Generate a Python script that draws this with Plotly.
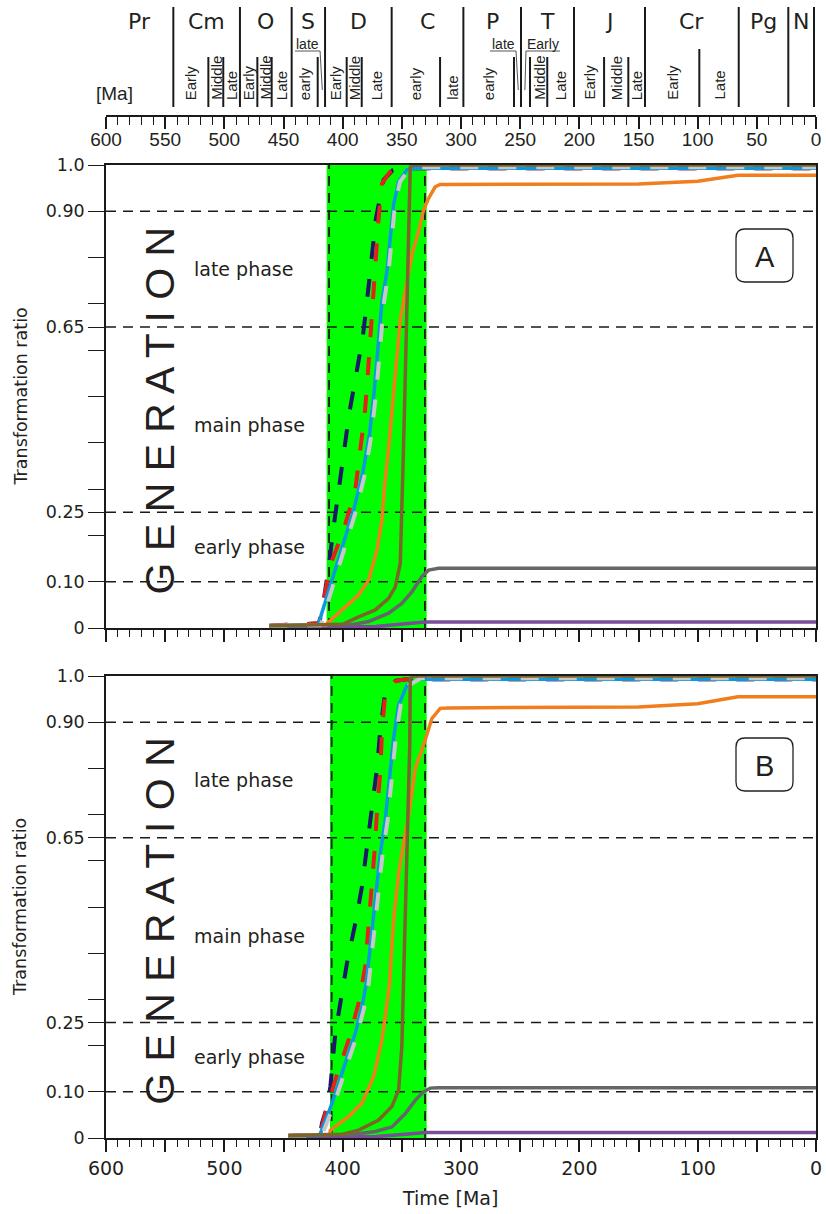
import plotly.graph_objects as go

FONT = "Liberation Sans, Arial, sans-serif"
WFONT = "DejaVu Sans, Verdana, sans-serif"
W, H = 826, 1214

# ---------------- data ----------------
# geological time scale (ages in Ma)
period_names = ["Pr", "Cm", "O", "S", "D", "C", "P", "T", "J", "Cr", "Pg", "N"]
period_bounds = [600, 543.1, 486.8, 443.1, 414.9, 358.6, 298.0, 249.3, 204.5, 144.5, 65.3, 23.4, 1.7]

epoch_bounds = [513.5, 500.9, 472.1, 460.0, 421.1, 396.6, 383.9, 317.7,
                255.2, 241.7, 227.1, 179.1, 158.6, 98.6]
epoch_labels = [  # (name, older bound, younger bound)
    ("Early", 543.1, 513.5), ("Middle", 513.5, 500.9), ("Late", 500.9, 486.8),
    ("Early", 486.8, 472.1), ("Middle", 472.1, 460.0), ("Late", 460.0, 443.1),
    ("early", 443.1, 421.1),
    ("Early", 414.9, 396.6), ("Middle", 396.6, 383.9), ("Late", 383.9, 358.6),
    ("early", 358.6, 317.7), ("late", 317.7, 298.0),
    ("early", 298.0, 255.2),
    ("Middle", 241.7, 227.1), ("Late", 227.1, 204.5),
    ("Early", 204.5, 179.1), ("Middle", 179.1, 158.6), ("Late", 158.6, 144.5),
    ("Early", 144.5, 98.6), ("Late", 98.6, 65.3),
]
time_ticks = list(range(0, 601, 50))

# y-axis ticks
y_tickvals = [0, 0.1, 0.2, 0.25, 0.3, 0.4, 0.5, 0.6, 0.65, 0.7, 0.8, 0.9, 1.0]
y_ticktext = ["0", "0.10", "", "0.25", "", "", "", "", "0.65", "", "", "0.90", "1.0"]
phase_limits = [0.10, 0.25, 0.65, 0.90]

# generation window (Ma)
window_A = [413.5, 329.0]
window_B = [410.7, 329.0]
window_lines_A = [411.5, 330.5]
window_lines_B = [409.3, 330.4]

# ---- panel A series (time [Ma], transformation ratio) ----
A_navy_t = [462, 420, 417.5, 411.8, 407.6, 403.4, 399.2, 394.4, 388.4, 382.8, 379.5, 375.3, 371.9, 365.4, 358, 350, 0]
A_navy_r = [0.005, 0.01, 0.035, 0.132, 0.219, 0.302, 0.381, 0.464, 0.55, 0.633, 0.705, 0.80, 0.885, 0.968, 0.988, 0.993, 0.993]
A_red_t = [462, 420, 417.5, 410.4, 399.2, 389.3, 385.7, 381.4, 378.9, 376.6, 374.2, 372.4, 369.6, 366.8, 360, 352, 0]
A_red_r = [0.005, 0.01, 0.04, 0.136, 0.212, 0.298, 0.374, 0.46, 0.543, 0.629, 0.705, 0.798, 0.885, 0.96, 0.985, 0.993, 0.993]
A_blue_t = [462, 421, 420.3, 411.8, 400.6, 390.7, 383, 377.2, 373, 369.6, 366.8, 362.6, 359.8, 357, 352.7, 345.7, 338, 0]
A_blue_r = [0.005, 0.006, 0.01, 0.082, 0.176, 0.255, 0.335, 0.42, 0.521, 0.615, 0.705, 0.77, 0.842, 0.914, 0.964, 0.99, 0.993, 0.993]
A_gray_t = [462, 419, 418, 409.5, 398.5, 388.5, 381, 375.5, 371.2, 367.8, 365, 361.2, 358.5, 355.8, 351.5, 344, 336, 0]
A_gray_r = [0.005, 0.006, 0.01, 0.082, 0.176, 0.255, 0.335, 0.42, 0.521, 0.615, 0.705, 0.77, 0.842, 0.914, 0.964, 0.99, 0.995, 0.995]
A_orange_t = [462, 414, 413.2, 400.6, 386.5, 378, 371, 366.8, 364.5, 361.5, 358.4, 354.2, 351.3, 348.5, 344.5, 341.5, 335.9, 331.6, 327.4, 321.8, 317.6, 150, 100, 66, 0]
A_orange_r = [0.005, 0.006, 0.01, 0.039, 0.071, 0.104, 0.168, 0.233, 0.31, 0.38, 0.471, 0.593, 0.665, 0.708, 0.76, 0.806, 0.856, 0.903, 0.928, 0.953, 0.958, 0.959, 0.965, 0.978, 0.978]
A_olive_t = [462, 400, 386.5, 372.4, 361.2, 355.5, 351.3, 350, 349.1, 347.5, 345.7, 344.3, 343.2, 342.9, 340, 0]
A_olive_r = [0.005, 0.008, 0.024, 0.039, 0.064, 0.089, 0.14, 0.233, 0.341, 0.5, 0.7, 0.806, 0.95, 0.995, 1.0, 1.0]
A_dgray_t = [462, 390, 378, 361.2, 350, 341.5, 333.1, 327.4, 319, 0]
A_dgray_r = [0.005, 0.008, 0.014, 0.032, 0.053, 0.078, 0.111, 0.125, 0.129, 0.129]
A_purple_t = [462, 372.4, 347, 330.2, 313, 0]
A_purple_r = [0.002, 0.003, 0.009, 0.013, 0.013, 0.013]

# ---- panel B series ----
B_navy_t = [446, 419, 417.5, 413.2, 410.4, 406.2, 400.6, 396.4, 389.3, 383.7, 379.5, 375.3, 371, 368.2, 364, 355, 345.7, 0]
B_navy_r = [0.005, 0.008, 0.032, 0.068, 0.111, 0.227, 0.313, 0.378, 0.465, 0.544, 0.63, 0.714, 0.80, 0.883, 0.966, 0.99, 0.993, 0.993]
B_red_t = [446, 419, 416, 406.2, 395, 386.5, 380.9, 378, 375.3, 373, 371, 368.2, 366.8, 364, 356, 348, 0]
B_red_r = [0.005, 0.008, 0.04, 0.126, 0.212, 0.292, 0.371, 0.457, 0.537, 0.623, 0.706, 0.793, 0.879, 0.963, 0.988, 0.993, 0.993]
B_blue_t = [446, 420, 418.8, 409, 397.8, 389.3, 383.7, 380, 376.7, 372.4, 368.2, 364, 359.8, 357, 352.7, 345.7, 335.9, 0]
B_blue_r = [0.005, 0.006, 0.01, 0.075, 0.162, 0.227, 0.284, 0.335, 0.414, 0.515, 0.616, 0.688, 0.786, 0.865, 0.937, 0.98, 0.993, 0.993]
B_gray_t = [446, 418, 416.8, 407, 395.8, 387.3, 381.7, 378, 374.7, 370.4, 366.2, 362, 358, 355.2, 351, 344, 334, 0]
B_gray_r = [0.005, 0.006, 0.01, 0.075, 0.162, 0.227, 0.284, 0.335, 0.414, 0.515, 0.616, 0.688, 0.786, 0.865, 0.937, 0.98, 0.995, 0.995]
B_orange_t = [446, 411, 410.4, 395, 383.7, 373.8, 366.8, 362.6, 360.5, 357, 352.7, 347, 344.8, 338.6, 331.6, 324.6, 317.6, 310.5, 150, 100, 66, 0]
B_orange_r = [0.005, 0.008, 0.017, 0.046, 0.075, 0.133, 0.212, 0.284, 0.33, 0.472, 0.573, 0.66, 0.688, 0.80, 0.851, 0.908, 0.93, 0.931, 0.933, 0.94, 0.955, 0.955]
B_olive_t = [446, 400, 386.5, 369.6, 358.4, 352.7, 350, 348.5, 346.5, 344.3, 343.3, 342.9, 340, 0]
B_olive_r = [0.005, 0.008, 0.017, 0.039, 0.068, 0.104, 0.198, 0.342, 0.5, 0.688, 0.85, 0.995, 1.0, 1.0]
B_dgray_t = [446, 390, 372.4, 358.4, 347, 338.6, 331.6, 326, 319, 0]
B_dgray_r = [0.005, 0.008, 0.014, 0.024, 0.053, 0.082, 0.1, 0.108, 0.109, 0.109]
B_purple_t = [446, 372, 347, 330, 313, 0]
B_purple_r = [0.002, 0.003, 0.008, 0.012, 0.012, 0.012]

# ---------------- styles ----------------
C_NAVY = "#1e1868"
C_RED = "#e2231a"
C_GRAY = "#c8c8c8"
C_BLUE = "#0b98de"
C_ORANGE = "#f07e1c"
C_OLIVE = "#7a662a"
C_DGRAY = "#666666"
C_PURPLE = "#7a4c9a"
C_GREEN = "#00ff00"
TXT = "#231f20"
DASH = "18px,20px"

fig = go.Figure()


def add_panel(xa, ya, d):
    series = [
        (d["purple"], C_PURPLE, "solid", 3.5),
        (d["dgray"], C_DGRAY, "solid", 3.5),
        (d["orange"], C_ORANGE, "solid", 3.5),
        (d["navy"], C_NAVY, DASH, 4),
        (d["red"], C_RED, DASH, 4),
        (d["blue"], C_BLUE, "solid", 3.5),
        (d["gray"], C_GRAY, DASH, 4),
        (d["olive"], C_OLIVE, "solid", 3.5),
    ]
    for (t, r), col, dash, lw in series:
        fig.add_trace(go.Scatter(x=t, y=r, mode="lines", xaxis=xa, yaxis=ya,
                                 line=dict(color=col, width=lw, dash=dash),
                                 showlegend=False, hoverinfo="skip"))


add_panel("x", "y", dict(navy=(A_navy_t, A_navy_r), red=(A_red_t, A_red_r), blue=(A_blue_t, A_blue_r),
                        gray=(A_gray_t, A_gray_r), orange=(A_orange_t, A_orange_r), olive=(A_olive_t, A_olive_r),
                        dgray=(A_dgray_t, A_dgray_r), purple=(A_purple_t, A_purple_r)))
add_panel("x2", "y2", dict(navy=(B_navy_t, B_navy_r), red=(B_red_t, B_red_r), blue=(B_blue_t, B_blue_r),
                          gray=(B_gray_t, B_gray_r), orange=(B_orange_t, B_orange_r), olive=(B_olive_t, B_olive_r),
                          dgray=(B_dgray_t, B_dgray_r), purple=(B_purple_t, B_purple_r)))
# dummy trace to materialise the time-scale axis
fig.add_trace(go.Scatter(x=[600], y=[-5], xaxis="x3", yaxis="y3", mode="markers",
                         marker=dict(opacity=0), showlegend=False, hoverinfo="skip"))


def py(px):
    return 1 - px / H


def pxx(px):
    return px / W


xdom = [pxx(106), pxx(816)]
domA = [py(628), py(165)]
domB = [py(1138), py(676)]

shapes = []
annotations = []


def ann(text, x, y, xref="paper", yref="paper", size=17, angle=0, xanchor="center",
        yanchor="middle", family=WFONT):
    annotations.append(dict(text=text, x=x, y=y, xref=xref, yref=yref, showarrow=False,
                            xanchor=xanchor, yanchor=yanchor, textangle=angle,
                            borderpad=0, font=dict(family=family, size=size, color=TXT)))


for xr, yr, win, wl in [("x", "y", window_A, window_lines_A), ("x2", "y2", window_B, window_lines_B)]:
    shapes.append(dict(type="rect", xref=xr, yref=yr, x0=win[0], x1=win[1], y0=0, y1=1,
                       fillcolor=C_GREEN, line=dict(width=0), layer="below"))
    for v in phase_limits:
        shapes.append(dict(type="line", xref=xr, yref=yr, x0=600, x1=0, y0=v, y1=v,
                           line=dict(color="#1a1a1a", width=1.6, dash="10px,7px"), layer="below"))
    for v in wl:
        shapes.append(dict(type="line", xref=xr, yref=yr, x0=v, x1=v, y0=0, y1=1,
                           line=dict(color="#1a1a1a", width=1.8, dash="10px,7px"), layer="below"))

# phase labels, GENERATION, y titles
for yr in ["y", "y2"]:
    for txt, yv in [("late phase", 0.775), ("main phase", 0.438), ("early phase", 0.175)]:
        ann(txt, pxx(193), yv, yref=yr, size=19, xanchor="left")
    ann("G E N E R A T I O N", pxx(160), 0.47, yref=yr, size=41, angle=-90, family=FONT)
    ann("Transformation ratio", pxx(20), 0.5, yref=yr, size=17.5, angle=-90)

# A / B boxes
for lab, cy in [("A", 255.5), ("B", 764.5)]:
    x0, x1 = pxx(736), pxx(793)
    y0, y1 = py(cy + 26.5), py(cy - 26.5)
    rx, ry = 9 / W, 9 / H
    path = (f"M {x0+rx},{y0} L {x1-rx},{y0} Q {x1},{y0} {x1},{y0+ry} L {x1},{y1-ry} "
            f"Q {x1},{y1} {x1-rx},{y1} L {x0+rx},{y1} Q {x0},{y1} {x0},{y1-ry} "
            f"L {x0},{y0+ry} Q {x0},{y0} {x0+rx},{y0} Z")
    shapes.append(dict(type="path", xref="paper", yref="paper", path=path,
                       line=dict(color=TXT, width=1.3), fillcolor="white"))
    ann(lab, pxx(764.5), py(cy + 1), size=29, family=FONT)

# ---------------- time scale ----------------
top_y0, top_y1 = py(107), py(7)
for b in period_bounds[1:]:
    shapes.append(dict(type="line", xref="x3", yref="paper", x0=b, x1=b, y0=top_y0, y1=top_y1,
                       line=dict(color="#1a1a1a", width=2)))
for b in epoch_bounds:
    ytop = py(49) if b < 120 else py(57)
    shapes.append(dict(type="line", xref="x3", yref="paper", x0=b, x1=b, y0=top_y0, y1=ytop,
                       line=dict(color="#1a1a1a", width=2)))
for i, name in enumerate(period_names):
    mid = (period_bounds[i] + period_bounds[i + 1]) / 2
    ann(name, mid, py(21), xref="x3", size=22)
for name, a, b in epoch_labels:
    ann(name, (a + b) / 2, py(101), xref="x3", size=15, angle=-90, yanchor="bottom", family=FONT)


# small bracketed labels: S late, P late, T Early
def bracket(label, x_left, x_right, x_end, corner_at_right=True):
    ann(label, (x_left + x_right) / 2, py(44), xref="x3", size=14, family=FONT)
    shapes.append(dict(type="line", xref="x3", yref="paper", x0=x_left, x1=x_right, y0=py(51), y1=py(51),
                       line=dict(color="#555", width=1)))
    xc = x_right if corner_at_right else x_left
    shapes.append(dict(type="line", xref="x3", yref="paper", x0=xc, x1=x_end, y0=py(51), y1=py(90),
                       line=dict(color="#555", width=1)))


bracket("late", 440.3, 419.1, 417.2)
bracket("late", 275.5, 253.5, 251.6)
bracket("Early", 245.1, 216.3, 246.0, corner_at_right=False)

ann("[Ma]", pxx(114), py(93), size=19, family=FONT)
ann("Time [Ma]", pxx(450), py(1198), size=19)

axis_common = dict(range=[600, 0], domain=xdom, showgrid=False, zeroline=False, showline=True,
                   linecolor="#1a1a1a", linewidth=1.6, ticks="outside", tickcolor="#1a1a1a",
                   tickwidth=1.6, tickvals=time_ticks, automargin=False, fixedrange=True)
yaxis_common = dict(range=[0, 1], showgrid=False, zeroline=False, showline=True, mirror=True,
                    linecolor="#1a1a1a", linewidth=1.6, ticks="outside", ticklen=16, tickwidth=1.4,
                    tickcolor="#1a1a1a", tickvals=y_tickvals, ticktext=y_ticktext, automargin=False,
                    fixedrange=True, tickfont=dict(family=WFONT, size=17.5, color=TXT))
minor_ticks = dict(dtick=10, ticklen=7, ticks="outside", tickcolor="#1a1a1a", tickwidth=1.4)

fig.update_layout(
    width=W, height=H, margin=dict(l=0, r=0, t=0, b=0, pad=0, autoexpand=False),
    paper_bgcolor="white", plot_bgcolor="white",
    xaxis=dict(**axis_common, anchor="y", mirror=True, ticklen=12, ticktext=[""] * len(time_ticks),
               minor=minor_ticks),
    yaxis=dict(**yaxis_common, domain=domA, anchor="x"),
    xaxis2=dict(**axis_common, anchor="y2", mirror=True, ticklen=12,
                ticktext=[str(v) if v % 100 == 0 else "" for v in time_ticks],
                tickfont=dict(family=WFONT, size=19, color=TXT), minor=minor_ticks),
    yaxis2=dict(**yaxis_common, domain=domB, anchor="x2"),
    xaxis3=dict(**axis_common, anchor="y3", ticklen=12, ticktext=[str(v) for v in time_ticks],
                tickfont=dict(family=FONT, size=19, color=TXT), ticklabelstandoff=-6,
                minor=dict(dtick=10, ticklen=8, ticks="outside", tickcolor="#1a1a1a", tickwidth=1.4)),
    yaxis3=dict(domain=[py(115), 1], range=[0, 1], visible=False, anchor="x3", fixedrange=True,
                automargin=False),
    shapes=shapes, annotations=annotations,
)

fig.write_html("out.html")
